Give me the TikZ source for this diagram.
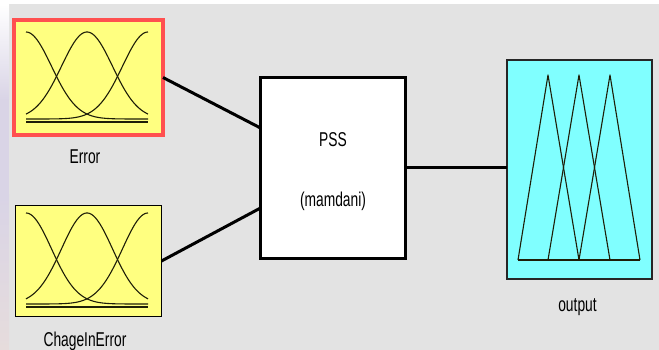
\documentclass[tikz,border=0pt]{standalone}
\usepackage{fontspec}
\setmainfont{Liberation Sans}
\usetikzlibrary{calc}
\definecolor{bggray}{HTML}{E3E3E3}
\definecolor{mfyellow}{HTML}{FFFF80}
\definecolor{mfred}{HTML}{FF5050}
\definecolor{mfcyan}{HTML}{80FFFF}
\definecolor{curvecol}{HTML}{1E1E08}
\definecolor{lav}{HTML}{D9D4E6}
\definecolor{pinkg}{HTML}{E6DCDC}
\newcommand{\lbl}[1]{\fontsize{13.8}{16}\selectfont\scalebox{1}[1.45]{#1}}
\tikzset{
  box/.style={rectangle, inner sep=0pt, outer sep=0pt},
  inbox/.style={box, fill=mfyellow},
  lab/.style={inner sep=0pt, anchor=base},
  wire/.style={line width=3pt, black},
  mf/.style={curvecol, line width=1.1pt, line join=round}
}
\begin{document}
\begin{tikzpicture}[x=1pt,y=-1pt]
\useasboundingbox (0,0) rectangle (659,350);
\fill[white] (0,0) rectangle (659,350);
\fill[bggray] (9,4) rectangle (659,350);
\shade[top color=white, bottom color=lav] (0,4) rectangle (9,100);
\fill[lav] (0,100) rectangle (9,195);
\shade[top color=lav, bottom color=pinkg] (0,195) rectangle (9,350);
% boxes
\node[inbox, draw=mfred, line width=4pt, minimum width=149pt, minimum height=115pt] (err) at (88.5,77.5) {};
\node[inbox, draw=black, line width=1.5pt, minimum width=146pt, minimum height=111pt] (cie) at (88.5,261) {};
\node[box, fill=white, draw=black, line width=3pt, minimum width=145pt, minimum height=181pt] (pss) at (333,168) {};
\node[box, fill=mfcyan, draw=black!85, line width=2pt, minimum width=145pt, minimum height=219pt] (out) at (579.5,169.5) {};
% membership functions: Error
\foreach \c in {26,87,148} {
  \draw[mf] plot[domain=26:148, samples=80, smooth] (\x, {119-87*exp(-((\x-\c)*(\x-\c))/1300)});
}
\draw[mf] (26,122) -- (148,122);
% membership functions: ChageInError
\foreach \c in {26,87,148} {
  \draw[mf] plot[domain=26:148, samples=80, smooth] (\x, {304-91*exp(-((\x-\c)*(\x-\c))/1300)});
}
\draw[mf] (26,307) -- (148,307);
% membership functions: output
\draw[mf] (518,260) -- (548,75) -- (579,260);
\draw[mf] (548,260) -- (579,75) -- (610,260);
\draw[mf] (579,260) -- (610,75) -- (640,260);
\draw[mf] (518,260) -- (640,260);
% connectors
\draw[wire] (err.east) -- ($(pss.west)+(0,-40)$);
\draw[wire] (cie.east) -- ($(pss.west)+(0,40)$);
\draw[wire] (pss.east) -- (pss.east -| out.west);
% labels
\node[lab] (errl) at (85,164) {\lbl{Error}};
\node[lab] (ciel) at (85,346) {\lbl{ChageInError}};
\node[lab] (pssl) at (333,147) {\lbl{PSS}};
\node[lab] (mamd) at (333,207) {\lbl{(mamdani)}};
\node[lab] (outl) at (577.5,311) {\lbl{output}};
\end{tikzpicture}
\end{document}
